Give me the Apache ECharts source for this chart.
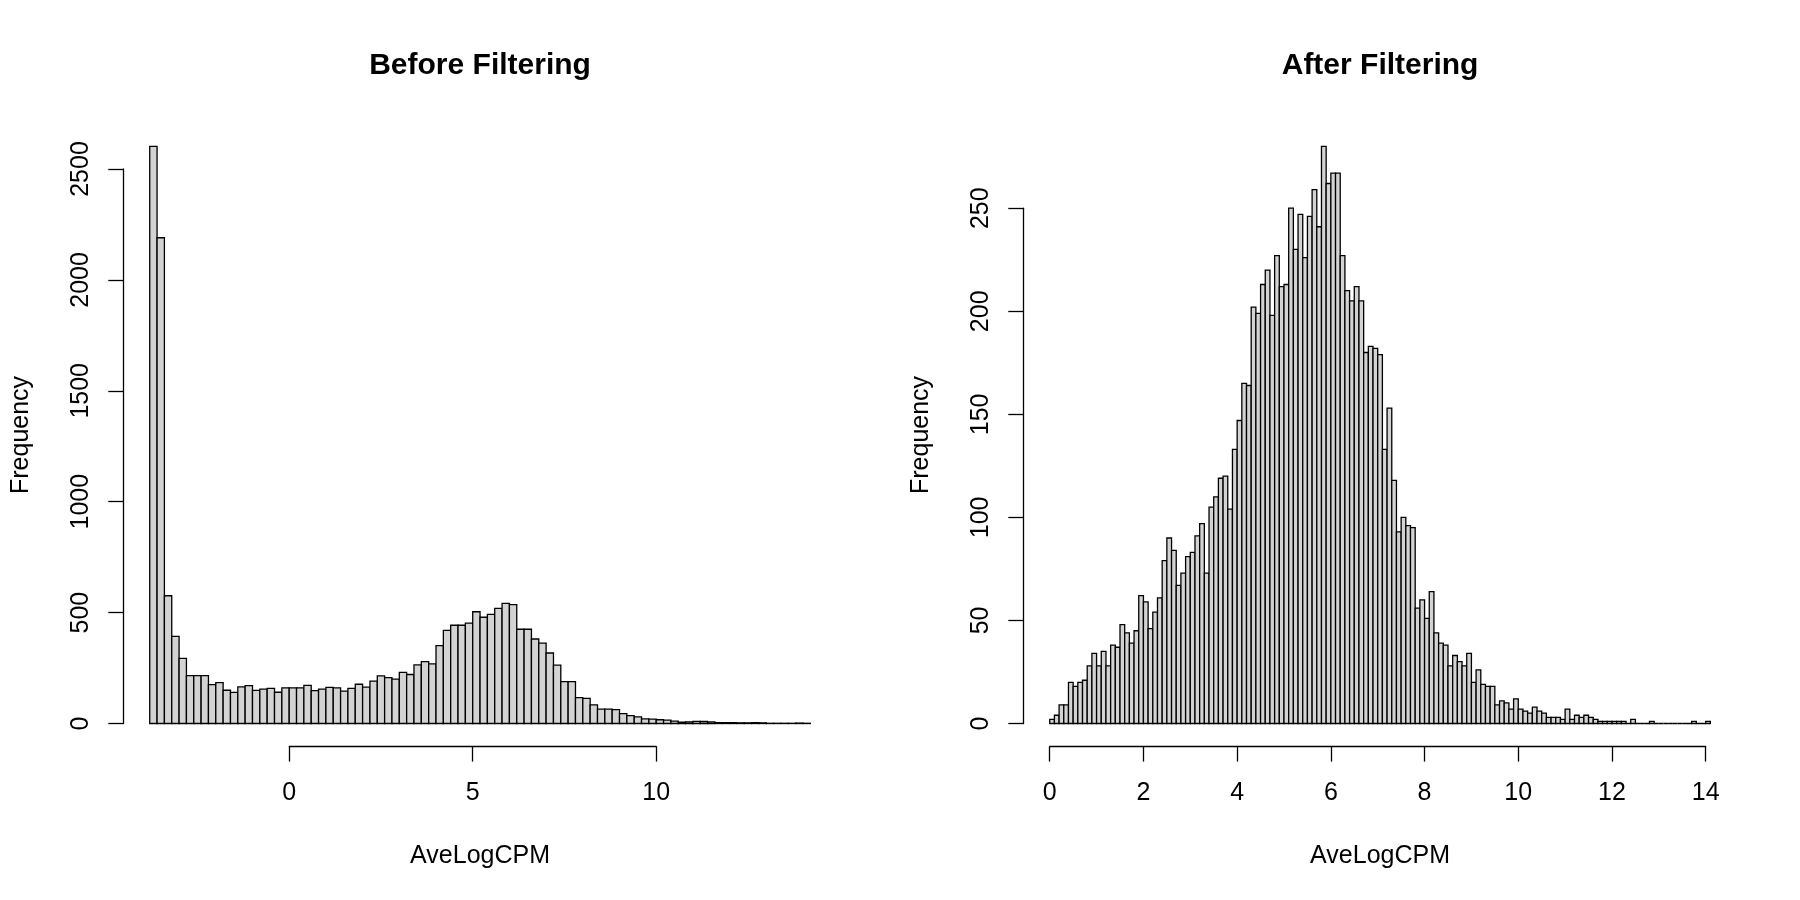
<!DOCTYPE html>
<html>
<head>
<meta charset="utf-8">
<script src="https://cdn.jsdelivr.net/npm/echarts@6/dist/echarts.min.js"></script>
<style>
html,body{margin:0;padding:0;background:#ffffff;}
#chart{width:1800px;height:900px;}
</style>
</head>
<body>
<div id="chart"></div>
<script>
// ---------- data ----------
const panelTitles = ['Before Filtering', 'After Filtering'];
const xAxisTitle = 'AveLogCPM';
const yAxisTitle = 'Frequency';

// Before filtering: bins of width 0.2 starting at -3.8
const beforeBreakStart = -3.8;
const beforeBinWidth = 0.2;
const beforeCounts = [
  2602, 2190, 576, 393, 294, 216, 216, 216, 175, 184,
  150, 140, 165, 171, 149, 155, 158, 141, 161, 161,
  161, 172, 148, 155, 163, 161, 146, 158, 177, 164,
  191, 215, 207, 200, 231, 221, 264, 279, 269, 351,
  420, 443, 443, 453, 504, 479, 492, 519, 542, 536,
  425, 425, 381, 362, 318, 263, 189, 189, 117, 113,
  84, 65, 65, 63, 45, 36, 30, 21, 20, 17,
  15, 11, 6, 7, 10, 9, 7, 4, 4, 4,
  3, 3, 4, 3, 1, 1, 1, 1, 2, 1
];
const beforeXTicks = [0, 5, 10];
const beforeYTicks = [0, 500, 1000, 1500, 2000, 2500];

// After filtering: bins of width 0.1 starting at 0
const afterBreakStart = 0;
const afterBinWidth = 0.1;
const afterCounts = [
  2, 4, 9, 9, 20, 18, 20, 21, 28, 34,
  28, 35, 28, 38, 37, 48, 44, 39, 45, 62,
  59, 46, 54, 61, 79, 90, 84, 67, 73, 81,
  83, 91, 97, 73, 105, 110, 119, 120, 104, 133,
  147, 165, 164, 202, 199, 213, 220, 198, 227, 212,
  213, 250, 230, 247, 226, 246, 259, 241, 280, 262,
  267, 267, 227, 210, 205, 212, 205, 180, 183, 182,
  179, 133, 153, 118, 93, 100, 96, 95, 56, 60,
  51, 64, 44, 39, 38, 28, 33, 30, 28, 34,
  20, 26, 19, 18, 18, 9, 11, 10, 7, 12,
  7, 6, 5, 8, 6, 5, 3, 3, 3, 2,
  7, 2, 4, 3, 4, 3, 2, 1, 1, 1,
  1, 1, 1, 0, 2, 0, 0, 0, 1, 0,
  0, 0, 0, 0, 0, 0, 0, 1, 0, 0,
  1
];
const afterXTicks = [0, 2, 4, 6, 8, 10, 12, 14];
const afterYTicks = [0, 50, 100, 150, 200, 250];

// ---------- layout / style ----------
const FONT = '"Liberation Sans", Arial, Helvetica, sans-serif';
const PLOT_TOP = 123.3, PLOT_BOTTOM = 746.6;
const BAR_FILL = '#d3d3d3', INK = '#000000';

const panels = [
  {title: panelTitles[0], start: beforeBreakStart, width: beforeBinWidth, counts: beforeCounts,
   xTicks: beforeXTicks, yTicks: beforeYTicks, left: 123.3, right: 836.8},
  {title: panelTitles[1], start: afterBreakStart, width: afterBinWidth, counts: afterCounts,
   xTicks: afterXTicks, yTicks: afterYTicks, left: 1023.3, right: 1736.8}
];

const grid = [], xAxis = [], yAxis = [], series = [], title = [];
const axisLineStyle = {color: INK, width: 1.3};
const labelStyle = {fontSize: 25, color: INK, fontFamily: FONT};
const plainNumber = v => String(v);

panels.forEach((p, k) => {
  const nb = p.counts.length;
  const x0 = p.start, x1 = p.start + nb * p.width;
  const xr = x1 - x0;
  const xU = [x0 - 0.04 * xr, x1 + 0.04 * xr];
  const ymax = Math.max(...p.counts);
  const yU = [-0.04 * ymax, 1.04 * ymax];
  const pixX = v => p.left + (v - xU[0]) / (xU[1] - xU[0]) * (p.right - p.left);
  const pixY = v => PLOT_BOTTOM - (v - yU[0]) / (yU[1] - yU[0]) * (PLOT_BOTTOM - PLOT_TOP);
  const xt = p.xTicks, yt = p.yTicks;
  const base = k * 3;

  // main plot grid
  grid.push({left: p.left, top: PLOT_TOP, width: p.right - p.left, height: PLOT_BOTTOM - PLOT_TOP});
  // y axis grid (spans first..last y tick)
  grid.push({left: p.left, top: pixY(yt[yt.length - 1]), width: 1, height: pixY(yt[0]) - pixY(yt[yt.length - 1])});
  // x axis grid (spans first..last x tick)
  grid.push({left: pixX(xt[0]), top: PLOT_BOTTOM - 1, width: pixX(xt[xt.length - 1]) - pixX(xt[0]), height: 1});

  xAxis.push({
    gridIndex: base, type: 'value', min: xU[0], max: xU[1],
    axisLine: {show: false}, axisTick: {show: false}, axisLabel: {show: false}, splitLine: {show: false},
    name: xAxisTitle, nameLocation: 'middle', nameGap: 97, nameTextStyle: labelStyle
  });
  xAxis.push({gridIndex: base + 1, type: 'value', show: false, min: 0, max: 1});
  xAxis.push({
    gridIndex: base + 2, type: 'value', position: 'bottom',
    min: xt[0], max: xt[xt.length - 1], interval: xt[1] - xt[0],
    axisLine: {show: true, lineStyle: axisLineStyle},
    axisTick: {show: true, length: 15, lineStyle: axisLineStyle},
    axisLabel: Object.assign({margin: 34, formatter: plainNumber}, labelStyle),
    splitLine: {show: false}
  });

  yAxis.push({
    gridIndex: base, type: 'value', min: yU[0], max: yU[1],
    axisLine: {show: false}, axisTick: {show: false}, axisLabel: {show: false}, splitLine: {show: false},
    name: yAxisTitle, nameLocation: 'middle', nameRotate: 90, nameGap: 90, nameTextStyle: labelStyle
  });
  yAxis.push({
    gridIndex: base + 1, type: 'value', position: 'left',
    min: yt[0], max: yt[yt.length - 1], interval: yt[1] - yt[0],
    axisLine: {show: true, lineStyle: axisLineStyle},
    axisTick: {show: true, length: 15, lineStyle: axisLineStyle},
    axisLabel: Object.assign({margin: 30, rotate: 90, formatter: plainNumber}, labelStyle),
    splitLine: {show: false}
  });
  yAxis.push({gridIndex: base + 2, type: 'value', show: false, min: 0, max: 1});

  series.push({
    type: 'custom',
    xAxisIndex: base, yAxisIndex: base,
    data: p.counts.map((c, i) => [p.start + i * p.width, p.start + (i + 1) * p.width, c]),
    encode: {x: [0, 1], y: 2},
    silent: true,
    renderItem: function (params, api) {
      const a = api.coord([api.value(0), api.value(2)]);
      const b = api.coord([api.value(1), 0]);
      return {
        type: 'rect',
        shape: {x: a[0], y: a[1], width: b[0] - a[0], height: b[1] - a[1]},
        style: {fill: BAR_FILL, stroke: INK, lineWidth: 1.3}
      };
    }
  });

  title.push({
    text: p.title, left: (p.left + p.right) / 2, top: 51, textAlign: 'center', padding: 0,
    textStyle: {fontSize: 30, fontWeight: 'bold', color: INK, fontFamily: FONT}
  });
});

const chart = echarts.init(document.getElementById('chart'), null, {renderer: 'canvas'});
chart.setOption({
  backgroundColor: '#ffffff',
  animation: false,
  title: title,
  grid: grid,
  xAxis: xAxis,
  yAxis: yAxis,
  series: series
});
</script>
</body>
</html>
